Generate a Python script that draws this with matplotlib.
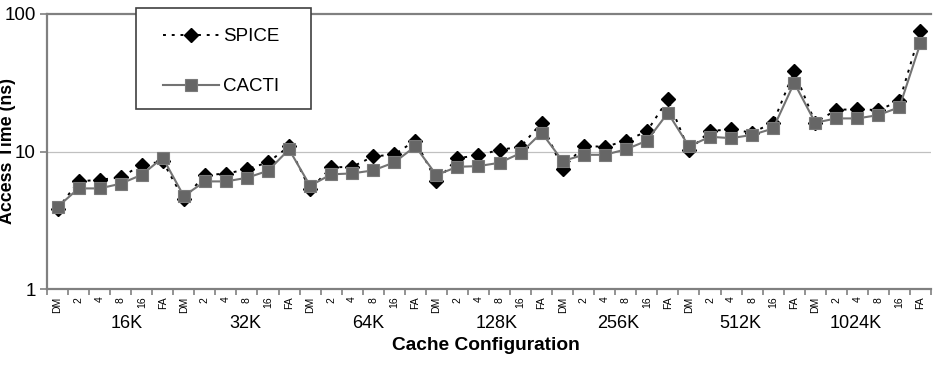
import matplotlib
matplotlib.use("Agg")
import matplotlib.pyplot as plt
from matplotlib.patches import Rectangle
import numpy as np

plt.rcParams['font.family'] = ['Liberation Sans', 'DejaVu Sans']

groups = ["16K", "32K", "64K", "128K", "256K", "512K", "1024K"]
configs = ["DM", "2", "4", "8", "16", "FA"]

spice = [3.82, 6.06, 6.23, 6.48, 8.0, 8.47,
         4.49, 6.77, 6.88, 7.45, 8.33, 10.9,
         5.3, 7.66, 7.74, 9.2, 9.52, 12.0,
         6.09, 8.95, 9.37, 10.3, 10.8, 16.2,
         7.45, 11.0, 10.8, 11.97, 14.0, 23.9,
         10.2, 14.1, 14.5, 13.7, 16.2, 38.4,
         16.2, 20.1, 20.3, 20.0, 23.3, 75.0]
cacti = [3.95, 5.39, 5.39, 5.83, 6.77, 9.0,
         4.74, 6.06, 6.06, 6.44, 7.24, 10.36,
         5.63, 6.82, 6.93, 7.29, 8.33, 10.9,
         6.74, 7.74, 7.83, 8.28, 9.73, 13.7,
         8.52, 9.46, 9.46, 10.36, 11.97, 19.1,
         10.9, 12.8, 12.5, 13.2, 14.7, 31.6,
         16.2, 17.4, 17.4, 18.4, 21.0, 61.4]

# group label x positions (in category index units)
group_label_pos = [3.28, 8.93, 14.77, 20.85, 26.65, 32.45, 37.9]

W, H = 934, 368
fig = plt.figure(figsize=(W / 100, H / 100), dpi=100)
ax = fig.add_axes([47 / W, 1 - 289 / H, (931 - 47) / W, (289 - 14) / H])

x = np.arange(len(spice))
tick_labels = configs * len(groups)

ax.plot(x, spice, linestyle=(0, (1.5, 3)), color='black', linewidth=1.4,
        marker='D', markersize=6.8, markerfacecolor='black', markeredgecolor='black',
        label='SPICE', zorder=3)
ax.plot(x, cacti, linestyle='-', color='#737373', linewidth=1.5,
        marker='s', markersize=8, markerfacecolor='#666666', markeredgecolor='#7a7a7a',
        markeredgewidth=0.8, label='CACTI', zorder=4)

ax.set_yscale('log')
ax.set_ylim(1, 100)
ax.set_xlim(-0.5, len(x) - 0.5)

ax.set_yticks([1, 10, 100])
ax.set_yticklabels(['1', '10', '100'], fontsize=13.5)
ax.yaxis.set_minor_locator(matplotlib.ticker.NullLocator())
ax.tick_params(axis='y', which='major', length=5, width=1.2, color='#808080', pad=3)

ax.set_xticks(np.arange(-0.5, len(x), 1.0))
ax.set_xticklabels([])
ax.tick_params(axis='x', which='major', length=4, width=1.2, color='#808080')
ax.set_xticks(x, minor=True)
ax.set_xticklabels(tick_labels, minor=True, rotation=90, fontsize=7.5)
ax.tick_params(axis='x', which='minor', length=0, pad=5.5)

ax.grid(False)
ax.axhline(10, color='#c0c0c0', linewidth=0.9, zorder=1)
ax.spines['right'].set_visible(False)
for s in ['left', 'bottom', 'top']:
    ax.spines[s].set_color('#808080')
    ax.spines[s].set_linewidth(1.6)

for lab, pos in zip(groups, group_label_pos):
    ax.text(pos, -(323.5 - 289) / 275, lab, transform=ax.get_xaxis_transform(),
            ha='center', va='center', fontsize=13)

ax.set_xlabel('Cache Configuration', fontsize=13.8, fontweight='bold')
ax.xaxis.set_label_coords(0.497, -(337 - 289) / 275)
ax.set_ylabel('Access Time (ns)', fontsize=12.8, fontweight='bold')
ax.yaxis.set_label_coords((16 - 47) / 884, 0.5)

# legend box
fig.add_artist(Rectangle((136 / W, 1 - 109 / H), (311 - 136) / W, (109 - 8) / H,
                         transform=fig.transFigure, facecolor='white',
                         edgecolor='#404040', linewidth=1.2, zorder=9))
leg = fig.legend(*ax.get_legend_handles_labels(), loc='upper left',
                 bbox_to_anchor=(163 / W, 1 - 28 / H),
                 bbox_transform=fig.transFigure, fontsize=13.5, frameon=False,
                 handlelength=3.0, handletextpad=0.2, labelspacing=1.75,
                 borderpad=0, borderaxespad=0)
leg.set_zorder(10)

fig.savefig('out.png', dpi=100)
